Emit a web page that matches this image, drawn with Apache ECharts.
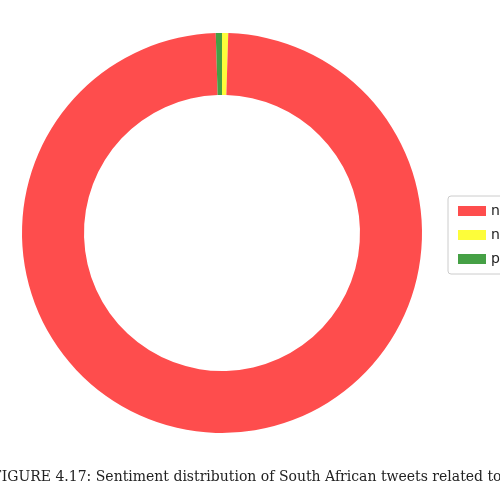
<!DOCTYPE html><html><head><meta charset="utf-8"><script src="https://cdn.jsdelivr.net/npm/echarts@6/dist/echarts.min.js"></script></head><body style="margin:0;background:#fff"><div id="c" style="width:500px;height:500px"></div><script>
const categories=['neutral','negative','positive'];
const values=[0.5,99,0.5];
const legendOrder=['negative','neutral','positive'];
const colors={negative:'#fe4d4d',neutral:'#fdfd3a',positive:'#45a045'};
const chart=echarts.init(document.getElementById('c'));
chart.setOption({
animation:false,
legend:{data:legendOrder,orient:'vertical',left:448,top:196,itemWidth:28,itemHeight:10,itemGap:10,borderColor:'#ccc',borderWidth:1,borderRadius:3,padding:[8,10],textStyle:{fontFamily:'DejaVu Sans',fontSize:14,color:'#222'},icon:'rect'},
graphic:[{type:'text',left:-8,top:470,style:{text:'FIGURE 4.17: Sentiment distribution of South African tweets related to train',font:'14px "DejaVu Serif"',fill:'#222'}}],
series:[{type:'pie',center:[222,233],radius:[138,200],startAngle:90,clockwise:true,label:{show:false},labelLine:{show:false},
data:categories.map((c,i)=>({name:c,value:values[i],itemStyle:{color:colors[c]}}))}]
});
</script></body></html>
